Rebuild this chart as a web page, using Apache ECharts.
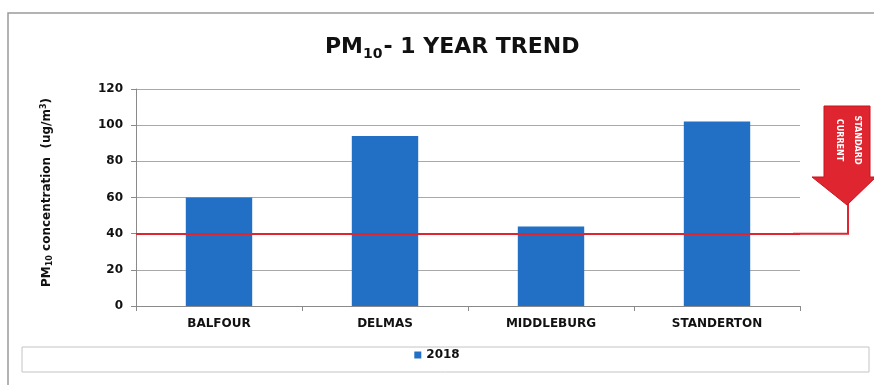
<!DOCTYPE html>
<html>
<head>
<meta charset="utf-8">
<script src="https://cdn.jsdelivr.net/npm/echarts@6/dist/echarts.min.js"></script>
<style>
  html, body { margin: 0; padding: 0; background: #fff; }
  #chart { width: 874px; height: 385px; }
</style>
</head>
<body>
<div id="chart"></div>
<script>
// Annual PM10 averages per monitoring station
const stations = ['BALFOUR', 'DELMAS', 'MIDDLEBURG', 'STANDERTON'];
const pm10_2018 = [60, 94, 44, 102];
const yTicks = [0, 20, 40, 60, 80, 100, 120];
const currentStandard = 40;
const seriesName = '2018';

const chart = echarts.init(document.getElementById('chart'));
const FONT = '"DejaVu Sans", "Open Sans", sans-serif';
const RED = '#df2530';

chart.setOption({
  animation: false,
  title: {
    text: '{a|PM}{s|10}{a|- 1 YEAR TREND}',
    left: 320,
    top: 29,
    textStyle: {
      rich: {
        a: { fontFamily: FONT, fontWeight: 'bold', fontSize: 22, color: '#111' },
        s: { fontFamily: FONT, fontWeight: 'bold', fontSize: 14, color: '#111', verticalAlign: 'bottom', padding: [13, 1, 0, 0] }
      }
    }
  },
  legend: {
    data: [seriesName],
    bottom: 19,
    left: 'center',
    itemWidth: 7,
    itemHeight: 7,
    itemGap: 4,
    icon: 'rect',
    textStyle: { fontFamily: FONT, fontWeight: 'bold', fontSize: 12, color: '#111' }
  },
  grid: { left: 136, right: 74, top: 89, bottom: 79 },
  xAxis: {
    type: 'category',
    data: stations,
    axisLine: { lineStyle: { color: '#8a8a8a', width: 1 } },
    axisTick: { show: true, length: 5, lineStyle: { color: '#8a8a8a' } },
    axisLabel: { fontFamily: FONT, fontWeight: 'bold', fontSize: 12, color: '#111', margin: 12 }
  },
  yAxis: {
    type: 'value',
    min: yTicks[0],
    max: yTicks[yTicks.length - 1],
    interval: yTicks[1] - yTicks[0],
    name: '{a|PM}{s|10}{a| concentration  (ug/m}{p|3}{a|)}',
    nameLocation: 'middle',
    nameGap: 82,
    nameTextStyle: {
      padding: [0, 0, 0, 10],
      rich: {
        a: { fontFamily: FONT, fontWeight: 'bold', fontSize: 12, color: '#111' },
        s: { fontFamily: FONT, fontWeight: 'bold', fontSize: 8, color: '#111', verticalAlign: 'bottom', padding: [6, 0, 0, 0] },
        p: { fontFamily: FONT, fontWeight: 'bold', fontSize: 8, color: '#111', verticalAlign: 'top', padding: [0, 0, 6, 0] }
      }
    },
    axisLine: { show: true, lineStyle: { color: '#8a8a8a', width: 1 } },
    axisTick: { show: true, length: 5, lineStyle: { color: '#8a8a8a' } },
    axisLabel: { fontFamily: FONT, fontWeight: 'bold', fontSize: 12, color: '#111', margin: 13 },
    splitLine: { lineStyle: { color: '#a8a8a8', width: 1 } }
  },
  series: [{
    name: seriesName,
    type: 'bar',
    data: pm10_2018,
    barCategoryGap: '60%',
    itemStyle: { color: '#2270c6' },
    markLine: {
      silent: true,
      symbol: 'none',
      label: { show: false },
      lineStyle: { color: RED, width: 2, type: 'solid' },
      data: [{ yAxis: currentStandard }]
    }
  }]
});

// Connector from the standard line to the "CURRENT STANDARD" arrow
const yStd = chart.convertToPixel({ yAxisIndex: 0 }, currentStandard);
const xEnd = chart.convertToPixel({ xAxisIndex: 0 }, stations.length - 1) + 131;
const arrowTip = 205;

chart.setOption({
  graphic: [
    // outer chart frame
    { type: 'rect', shape: { x: 8, y: 13, width: 880, height: 390 },
      style: { fill: 'none', stroke: '#9a9a9a', lineWidth: 1.5 }, silent: true },
    // legend frame
    { type: 'rect', shape: { x: 22, y: 347, width: 847, height: 25 },
      style: { fill: 'none', stroke: '#c4c4c4', lineWidth: 1 }, silent: true },
    { type: 'polyline', shape: { points: [[xEnd - 55, yStd], [xEnd, yStd], [xEnd, arrowTip - 2]] },
      style: { stroke: RED, lineWidth: 2, fill: 'none' }, silent: true },
    { type: 'polygon', shape: { points: [
        [xEnd - 24, 106], [xEnd + 22, 106], [xEnd + 22, 177], [xEnd + 28, 177],
        [xEnd - 1, arrowTip], [xEnd - 36, 177], [xEnd - 24, 177]
      ] },
      style: { fill: RED, stroke: '#c8141f', lineWidth: 1 }, silent: true },
    { type: 'text', x: xEnd - 9, y: 140, rotation: -Math.PI / 2,
      style: { text: 'CURRENT', fill: '#fff', font: 'bold 8px ' + FONT, align: 'center', verticalAlign: 'middle' }, silent: true },
    { type: 'text', x: xEnd + 9, y: 140, rotation: -Math.PI / 2,
      style: { text: 'STANDARD', fill: '#fff', font: 'bold 8px ' + FONT, align: 'center', verticalAlign: 'middle' }, silent: true }
  ]
});
</script>
</body>
</html>
